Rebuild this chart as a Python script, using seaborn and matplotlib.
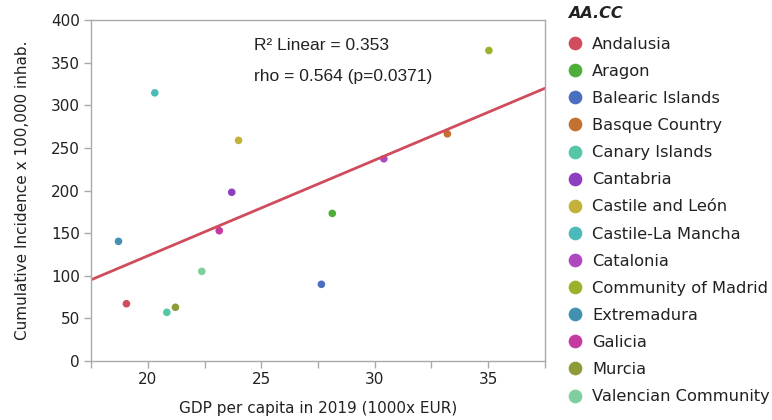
import numpy as np
import pandas as pd
import matplotlib
matplotlib.use("Agg")
import matplotlib.pyplot as plt
import seaborn as sns

# Data
regions = ['Andalusia', 'Aragon', 'Balearic Islands', 'Basque Country', 'Canary Islands',
           'Cantabria', 'Castile and León', 'Castile-La Mancha', 'Catalonia',
           'Community of Madrid', 'Extremadura', 'Galicia', 'Murcia', 'Valencian Community']
gdp = [19.06, 28.13, 27.65, 33.2, 20.84, 23.7, 24.0, 20.31, 30.4, 35.03, 18.71, 23.15, 21.22, 22.38]
incidence = [67.2, 173.2, 90.0, 266.6, 57.1, 198.0, 258.9, 314.7, 237.3, 364.4, 140.4, 152.9, 63.0, 105.2]
colors = ['#cf4d5e', '#4fae3a', '#4b6fc0', '#c4702f', '#55c7a6', '#8c3fbf', '#c2b23a',
          '#4cbab8', '#ad48c2', '#9bb22c', '#4391b0', '#c43aa0', '#8f9a38', '#7dcf9d']

df = pd.DataFrame({'AA.CC': regions, 'GDP': gdp, 'CI': incidence})

sns.set_style('white')
plt.rcParams['font.family'] = ['DejaVu Sans']
plt.rcParams['text.color'] = '#222222'
plt.rcParams['axes.labelcolor'] = '#222222'
plt.rcParams['xtick.labelcolor'] = '#222222'
plt.rcParams['ytick.labelcolor'] = '#222222'

fig = plt.figure(figsize=(7.72, 4.2), dpi=100)
ax = fig.add_axes([0.1179, 0.1405, 0.588, 0.8115])
ax.set_xlim(17.5, 37.5)
ax.set_ylim(0, 400)

# regression line + points
sns.regplot(data=df, x='GDP', y='CI', ax=ax, scatter=False, ci=None, truncate=False,
            line_kws={'color': '#d04b5c', 'lw': 2})
sns.scatterplot(data=df, x='GDP', y='CI', hue='AA.CC', palette=colors, s=30,
                edgecolor='none', ax=ax)

ax.set_xticks([17.5, 20, 22.5, 25, 27.5, 30, 32.5, 35, 37.5])
ax.set_xticklabels(['', '20', '', '25', '', '30', '', '35', ''])
ax.set_yticks(np.arange(0, 401, 50))
ax.tick_params(axis='both', length=5, width=1, color='#aaaaaa', labelsize=11, pad=3,
               direction='out', bottom=True, left=True)
for sp in ax.spines.values():
    sp.set_color('#aaaaaa')
    sp.set_linewidth(1)

ax.set_xlabel('GDP per capita in 2019 (1000x EUR)', fontsize=11, labelpad=10)
ax.set_ylabel('Cumulative Incidence x 100,000 inhab.', fontsize=11, labelpad=15)

ax.text(0.36, 0.927, 'R² Linear = 0.353', transform=ax.transAxes, fontsize=12.5,
        family='Liberation Sans', va='center')
ax.text(0.36, 0.836, 'rho = 0.564 (p=0.0371)', transform=ax.transAxes, fontsize=12.5,
        family='Liberation Sans', va='center')

handles, labels = ax.get_legend_handles_labels()
if ax.legend_:
    ax.legend_.remove()
leg = fig.legend(handles, labels, loc='center left',
                 bbox_to_anchor=(0.727, 0.475), frameon=False, fontsize=11.7,
                 markerscale=1.8, handlelength=0.95, handletextpad=0.55,
                 labelspacing=0.745, borderaxespad=0)
fig.text(568 / 772, 1 - 14 / 420, 'AA.CC', fontsize=11.5, fontweight='bold',
         fontstyle='italic', va='center', ha='left')

fig.savefig('out.png', dpi=100)
